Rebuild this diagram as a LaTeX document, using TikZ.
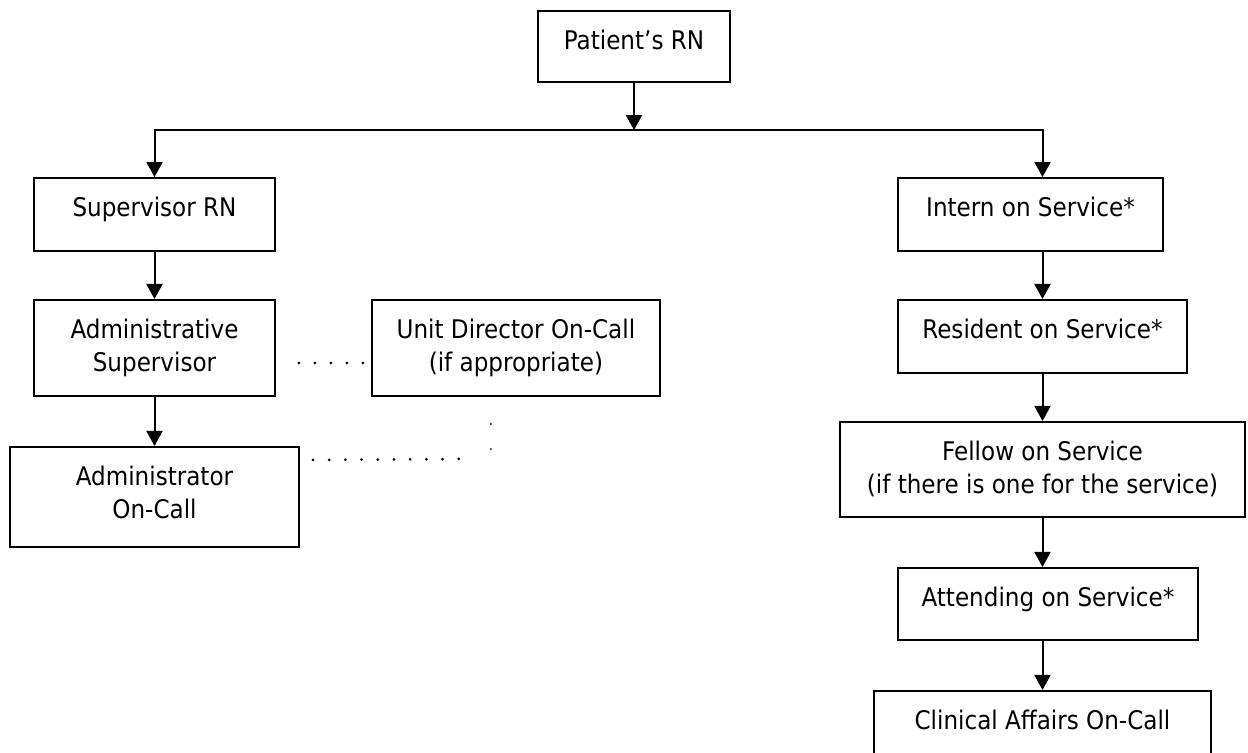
\documentclass[tikz,border=0pt]{standalone}
\usepackage{fontspec}
\setmainfont{DejaVu Sans Condensed}
\usetikzlibrary{positioning,arrows.meta}

\begin{document}
\begin{tikzpicture}[
  x=0.02cm, y=-0.02cm,
  font=\fontsize{14.6}{18.8}\selectfont,
  box/.style 2 args={draw, line width=0.04cm, inner sep=0pt, minimum width=#1, minimum height=#2,
    execute at begin node={\begin{minipage}[c][#2][t]{#1}\centering\rule{0pt}{0.77cm}},
    execute at end node={\end{minipage}}},
  arr/.style={-{Triangle[length=0.3cm, width=0.32cm]}, line width=0.04cm},
  dotrow/.style={line width=0.06cm, line cap=round, dash pattern=on 0pt off 0.32cm},
  dotcol/.style={line width=0.04cm, line cap=round, dash pattern=on 0pt off 0.5cm}
]
\useasboundingbox (0,0) rectangle (1248,752);
% --- top ---------------------------------------------------------------
\node[box={3.84cm}{1.42cm}] (pat) at (634,46.5) {Patient's RN};
\coordinate (split) at (634,130);
% --- left column (nursing) ---------------------------------------------
\node[box={4.82cm}{1.46cm}] (sup) at (154.5,214.5) {Supervisor RN};
\node[box={4.82cm}{1.92cm}, below=0.94cm of sup] (adsup) {Administrative\\ Supervisor};
\node[box={5.78cm}{2cm}, below=0.98cm of adsup] (admin) {Administrator\\ On-Call};
\node[box={5.76cm}{1.92cm}, right=1.9cm of adsup] (unit) {Unit Director On-Call\\ (if appropriate)};
% --- right column (physicians) -----------------------------------------
\node[box={5.3cm}{1.46cm}] (intern) at (1030.5,214.5) {Intern on Service*};
\node[box={5.78cm}{1.46cm}, below=0.94cm of intern.south west, anchor=north west]
  (resid) {Resident on Service*};
\node[box={8.12cm}{1.9cm}, below=0.94cm of resid]
  (fellow) {Fellow on Service\\ (if there is one for the service)};
\node[box={6.02cm}{1.44cm}, below=0.98cm of fellow, xshift=0.11cm] (attend) {Attending on Service*};
\node[box={6.74cm}{1.36cm}, below=0.98cm of attend, xshift=-0.11cm] (clin) {Clinical Affairs On-Call};
% --- arrows ------------------------------------------------------------
\draw[arr] (pat) -- (split);
\draw[arr] (split) -| (sup.north);
\draw[arr] (split) -| (intern.north -| resid.north);
\draw[arr] (sup) -- (adsup);
\draw[arr] (adsup) -- (admin);
\draw[arr] (intern.south -| resid.north) -- (resid.north);
\draw[arr] (resid) -- (fellow);
\draw[arr] (fellow.south) -- (fellow.south |- attend.north);
\draw[arr] (attend.south -| clin.north) -- (clin.north);
% --- dotted links ------------------------------------------------------
\coordinate (dotend) at ([shift={(-56,62)}]unit.south);
\draw[dotrow] ([shift={(23,15)}]adsup.east) -- ([shift={(-7.5,15)}]unit.west);
\draw[dotrow, dash pattern=on 0pt off 0.324cm] ([shift={(13,-37)}]admin.east) -- (dotend);
\draw[dotcol] ([shift={(-25,27)}]unit.south) -- ([shift={(-25,52)}]unit.south);
\end{tikzpicture}
\end{document}
